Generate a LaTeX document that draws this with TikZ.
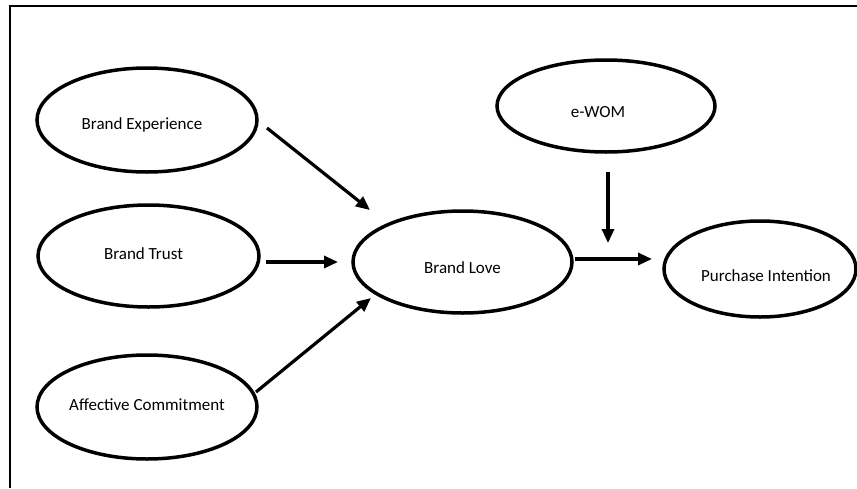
\documentclass[tikz,border=0pt]{standalone}
\usepackage{fontspec}
\setmainfont{Carlito}
\usetikzlibrary{shapes.geometric,arrows.meta}
\newcommand\mylbl[3]{\raisebox{#2}[0pt][0pt]{\makebox[0pt]{\hspace*{#1}\hspace*{#1}#3}}}
\tikzset{
  construct/.style={draw, ellipse, line width=3.5pt, inner sep=0pt, font=\fontsize{17}{20}\selectfont},
  path arrow/.style={line width=3.2pt, -{Triangle[length=14pt,width=12pt]}},
  framestroke/.style={line width=2pt}
}
\begin{document}
\begin{tikzpicture}[x=1pt,y=-1pt]
\useasboundingbox (0,0) rectangle (857,488);
\coordinate (fr-tl) at (10,6);
\coordinate (fr-tr) at (857,6);
\coordinate (fr-bl) at (10,488);
\draw[framestroke] (fr-tr) -- (fr-tl) -- (fr-bl);

\node[construct, minimum width=220pt, minimum height=104pt] (BE) at (147,120) {\mylbl{-5pt}{-9.5pt}{Brand Experience}};
\node[construct, minimum width=221pt, minimum height=102pt] (BT) at (148.5,256) {\mylbl{-5pt}{-3.5pt}{Brand Trust}};
\node[construct, minimum width=220pt, minimum height=104pt] (AC) at (147,407) {\mylbl{0pt}{-3.5pt}{Affective Commitment}};
\node[construct, minimum width=219pt, minimum height=102pt] (BL) at (462.5,262) {\mylbl{0pt}{-11.5pt}{Brand Love}};
\node[construct, minimum width=218pt, minimum height=92pt] (EW) at (606,106) {\mylbl{-8pt}{-11.5pt}{e-WOM}};
\node[construct, minimum width=192pt, minimum height=96pt] (PI) at (760,269) {\mylbl{6pt}{-12.5pt}{Purchase Intention}};

\coordinate (be-out) at (267,128);
\coordinate (bl-in1) at (370,210);
\coordinate (bt-out) at (266,262);
\coordinate (bl-in2) at (338,262);
\coordinate (ac-out) at (256,392);
\coordinate (bl-in3) at (371,298);
\coordinate (bl-out) at (575,259);
\coordinate (pi-in) at (652,259);
\coordinate (ew-out) at (608,172);
\coordinate (mod-pt) at (608,243);

\draw[path arrow] (be-out) -- (bl-in1);
\draw[path arrow] (bt-out) -- (bl-in2);
\draw[path arrow] (ac-out) -- (bl-in3);
\draw[path arrow] (bl-out) -- (pi-in);
\draw[path arrow] (ew-out) -- (mod-pt);
\end{tikzpicture}
\end{document}
